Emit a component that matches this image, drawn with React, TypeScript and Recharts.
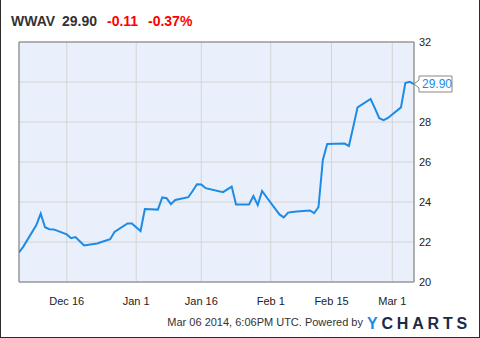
import { LineChart, Line, XAxis, YAxis, CartesianGrid, ReferenceArea, ReferenceDot } from 'recharts';

const dates = [
    '2013-12-05', '2013-12-06', '2013-12-09', '2013-12-10', '2013-12-11', '2013-12-12', '2013-12-13',
    '2013-12-16', '2013-12-17', '2013-12-18', '2013-12-19', '2013-12-20', '2013-12-23', '2013-12-24',
    '2013-12-26', '2013-12-27', '2013-12-30', '2013-12-31', '2014-01-02', '2014-01-03', '2014-01-06',
    '2014-01-07', '2014-01-08', '2014-01-09', '2014-01-10', '2014-01-13', '2014-01-14', '2014-01-15',
    '2014-01-16', '2014-01-17', '2014-01-21', '2014-01-22', '2014-01-23', '2014-01-24', '2014-01-27',
    '2014-01-28', '2014-01-29', '2014-01-30', '2014-01-31', '2014-02-03', '2014-02-04', '2014-02-05',
    '2014-02-06', '2014-02-07', '2014-02-10', '2014-02-11', '2014-02-12', '2014-02-13', '2014-02-14',
    '2014-02-18', '2014-02-19', '2014-02-20', '2014-02-21', '2014-02-24', '2014-02-25', '2014-02-26',
    '2014-02-27', '2014-02-28', '2014-03-03', '2014-03-04', '2014-03-05', '2014-03-06',
];

const prices = [
    21.48, 21.77, 22.85, 23.42, 22.74, 22.64, 22.63,
    22.38, 22.19, 22.25, 22.04, 21.83, 21.93, 22.0,
    22.14, 22.5, 22.93, 22.93, 22.55, 23.65, 23.62,
    24.23, 24.19, 23.89, 24.1, 24.24, 24.55, 24.89,
    24.88, 24.69, 24.49, 24.63, 24.77, 23.88, 23.88,
    24.3, 23.85, 24.55, 24.25, 23.38, 23.23, 23.47,
    23.5, 23.53, 23.58, 23.44, 23.75, 26.1, 26.9,
    26.92, 26.8, 27.75, 28.73, 29.15, 28.68, 28.19,
    28.09, 28.2, 28.73, 29.95, 30.01, 29.9,
];

const xTickDates = ['2013-12-16', '2014-01-01', '2014-01-16', '2014-02-01', '2014-02-15', '2014-03-01'];
const xTickLabels = ['Dec 16', 'Jan 1', 'Jan 16', 'Feb 1', 'Feb 15', 'Mar 1'];
const yTicks = [20, 22, 24, 26, 28, 30, 32];

const toTime = (d: string) => Date.parse(d + 'T00:00:00Z');

const data = dates.map((d, i) => ({ t: toTime(d), price: prices[i] }));
const xTicks = xTickDates.map(toTime);
const xStart = toTime('2013-12-05');
const xEnd = toTime('2014-03-06');
const last = data[data.length - 1];

const FONT = '"Liberation Sans", Arial, sans-serif';
const LINE = '#1d8be6';

function XTick({ x, y, payload }: any) {
    const idx = xTicks.indexOf(payload.value);
    return (
        <text x={x} y={y + 15} textAnchor="middle" fontSize={11} fontFamily={FONT} fill="#222">
            {xTickLabels[idx]}
        </text>
    );
}

function YTick({ y, payload }: any) {
    // 30 sits under the last-value flag
    if (payload.value === 30) return null;
    return (
        <text x={419} y={y + 4} fontSize={11} fontFamily={FONT} fill="#222">
            {payload.value}
        </text>
    );
}

function LastFlag({ cx, cy }: any) {
    const p = `M${cx},${cy} L${cx + 5},${cy - 4} L${cx + 5},${cy - 8} L${cx + 38},${cy - 8} L${cx + 38},${cy + 8} L${cx + 5},${cy + 8} L${cx + 5},${cy + 4} Z`;
    return (
        <g>
            <path d={p} fill="#fff" stroke="#888" strokeWidth={1} />
            <text x={cx + 8} y={cy + 4} fontSize={12} fontFamily={FONT} fill={LINE}>
                {last.price.toFixed(2)}
            </text>
        </g>
    );
}

export default function App() {
    return (
        <div
            style={{
                position: 'absolute',
                left: 0,
                top: 0,
                width: 480,
                height: 338,
                background: '#fff',
                boxSizing: 'border-box',
                borderLeft: '1px solid #2b2b2b',
                borderRight: '1px solid #2b2b2b',
                borderBottom: '1px solid #2b2b2b',
                overflow: 'hidden',
            }}
        >
            <div style={{ position: 'absolute', left: -1, top: 0 }}>
                <LineChart width={480} height={338} data={data} margin={{ top: 42, right: 0, left: 19, bottom: 26 }}>
                    <CartesianGrid stroke="#d4d4d4" fill="#e9f0fb" />
                    <XAxis
                        dataKey="t"
                        type="number"
                        domain={[xStart, xEnd]}
                        ticks={xTicks}
                        interval={0}
                        height={30}
                        tickLine={false}
                        axisLine={false}
                        tick={<XTick />}
                        allowDataOverflow
                    />
                    <YAxis
                        orientation="right"
                        domain={[20, 32]}
                        ticks={yTicks}
                        interval={0}
                        width={66}
                        tickLine={false}
                        axisLine={false}
                        tick={<YTick />}
                    />
                    <ReferenceArea x1={xStart} x2={xEnd} y1={20} y2={32} fill="none" stroke="#7a7a7a" strokeWidth={1} />
                    <Line
                        type="linear"
                        dataKey="price"
                        stroke={LINE}
                        strokeWidth={2}
                        dot={false}
                        isAnimationActive={false}
                    />
                    <ReferenceDot x={last.t} y={last.price} r={0} shape={<LastFlag />} />
                </LineChart>
            </div>
            <svg width={480} height={338} style={{ position: 'absolute', left: -1, top: 0, pointerEvents: 'none' }}>
                <g fontFamily={FONT} fontWeight="bold" fontSize={14}>
                    <text x={11} y={26} fill="#333">WWAV</text>
                    <text x={62} y={26} fill="#333">29.90</text>
                    <text x={107} y={26} fill="#f00">-0.11</text>
                    <text x={148} y={26} fill="#f00">-0.37%</text>
                </g>
                <text x={363} y={326} textAnchor="end" fontSize={11} fontFamily={FONT} fill="#333">
                    Mar 06 2014, 6:06PM UTC.  Powered by
                </text>
                <text x={367} y={329} fontSize={16} fontWeight="bold" fontFamily={FONT} letterSpacing={3.8}>
                    <tspan fill={LINE}>Y</tspan>
                    <tspan fill="#1b2a4a">CHARTS</tspan>
                </text>
            </svg>
        </div>
    );
}
